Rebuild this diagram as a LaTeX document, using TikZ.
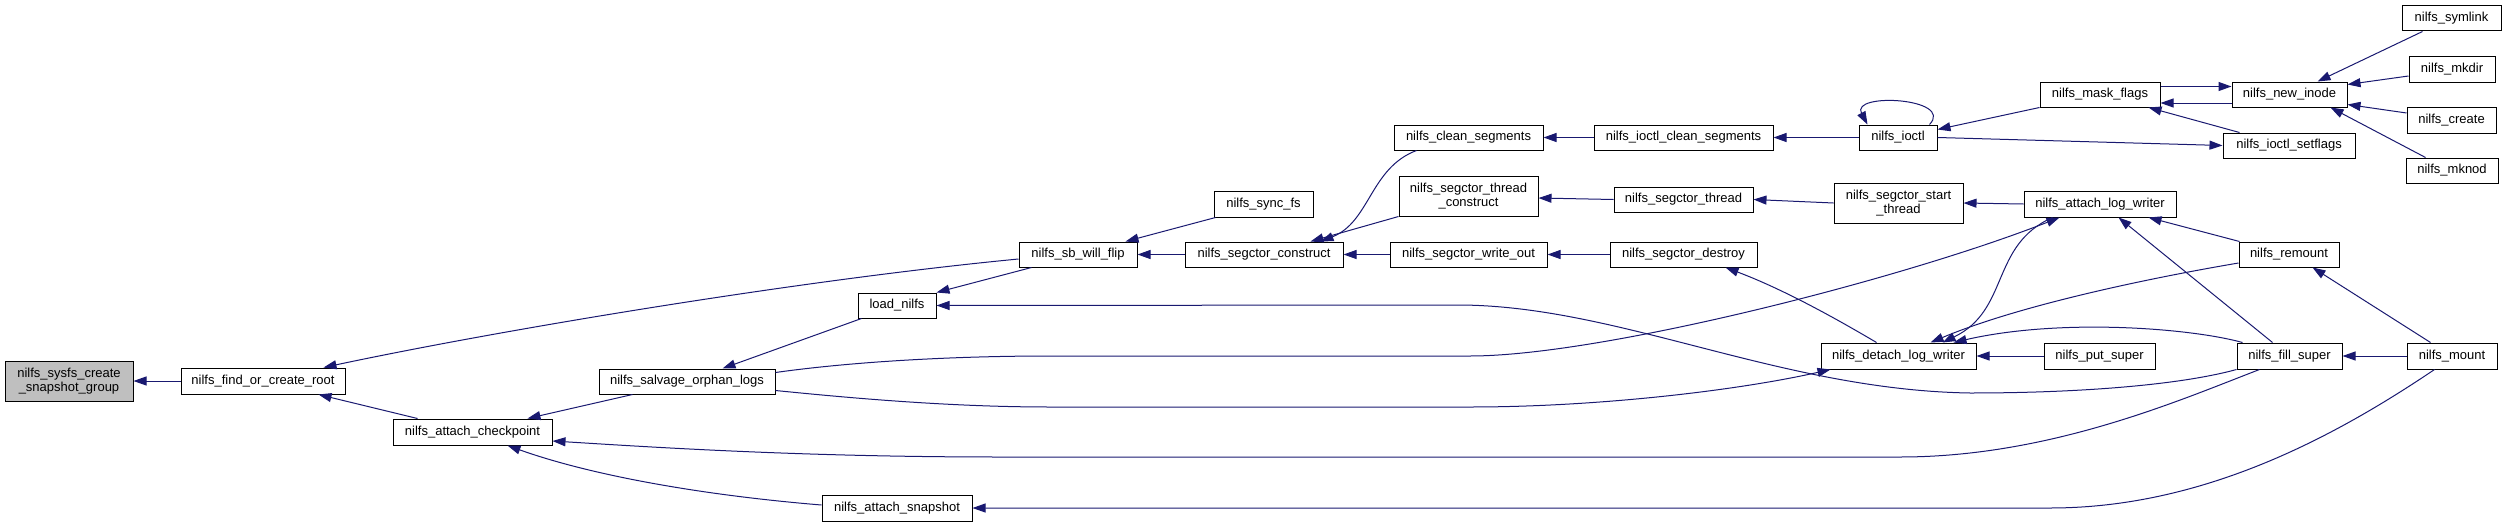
\documentclass[tikz,border=0pt]{standalone}
\usepackage{fontspec}
\setmainfont{Liberation Sans}
\usetikzlibrary{arrows.meta}
\definecolor{edgeblue}{HTML}{191970}
\begin{document}
\begin{tikzpicture}[x=1pt,y=-1pt,
 fn/.style={draw=black,line width=1pt,fill=white,inner sep=0pt,align=center,font=\fontsize{13}{14.5}\selectfont},
 call/.style={draw=edgeblue,line width=1pt,-{Triangle[length=13pt,width=9pt]}}]
\useasboundingbox (0,0) rectangle (2507,527);
% nodes
\node[fn,minimum width=128pt,minimum height=40pt,fill=gray!50] (root) at (69,381) {nilfs\_sysfs\_create\\\_snapshot\_group};
\node[fn,minimum width=164pt,minimum height=26pt] (findroot) at (263,381) {nilfs\_find\_or\_create\_root};
\node[fn,minimum width=159pt,minimum height=26pt] (attachcp) at (472.5,432) {nilfs\_attach\_checkpoint};
\node[fn,minimum width=176pt,minimum height=25pt] (salvage) at (687,381.5) {nilfs\_salvage\_orphan\_logs};
\node[fn,minimum width=118pt,minimum height=25pt] (sbflip) at (1078,254.5) {nilfs\_sb\_will\_flip};
\node[fn,minimum width=78pt,minimum height=25pt] (loadnilfs) at (897,305.5) {load\_nilfs};
\node[fn,minimum width=150pt,minimum height=26pt] (attachsnap) at (897,508) {nilfs\_attach\_snapshot};
\node[fn,minimum width=99pt,minimum height=26pt] (syncfs) at (1263.5,204) {nilfs\_sync\_fs};
\node[fn,minimum width=158pt,minimum height=25pt] (segconstruct) at (1264,254.5) {nilfs\_segctor\_construct};
\node[fn,minimum width=149pt,minimum height=25pt] (cleanseg) at (1468.5,137.5) {nilfs\_clean\_segments};
\node[fn,minimum width=139pt,minimum height=40pt] (threadconstruct) at (1468.5,196) {nilfs\_segctor\_thread\\\_construct};
\node[fn,minimum width=157pt,minimum height=25pt] (writeout) at (1468.5,254.5) {nilfs\_segctor\_write\_out};
\node[fn,minimum width=179pt,minimum height=25pt] (ioctlclean) at (1683.5,137.5) {nilfs\_ioctl\_clean\_segments};
\node[fn,minimum width=139pt,minimum height=25pt] (segthread) at (1683.5,199.5) {nilfs\_segctor\_thread};
\node[fn,minimum width=147pt,minimum height=25pt] (segdestroy) at (1683.5,254.5) {nilfs\_segctor\_destroy};
\node[fn,minimum width=78pt,minimum height=25pt] (ioctl) at (1898,137.5) {nilfs\_ioctl};
\node[fn,minimum width=129pt,minimum height=40pt] (startthread) at (1898.5,203) {nilfs\_segctor\_start\\\_thread};
\node[fn,minimum width=155pt,minimum height=26pt] (detach) at (1898.5,356) {nilfs\_detach\_log\_writer};
\node[fn,minimum width=120pt,minimum height=25pt] (maskflags) at (2100,94.5) {nilfs\_mask\_flags};
\node[fn,minimum width=152pt,minimum height=26pt] (attachlog) at (2100,204) {nilfs\_attach\_log\_writer};
\node[fn,minimum width=111pt,minimum height=26pt] (putsuper) at (2099.5,356) {nilfs\_put\_super};
\node[fn,minimum width=115pt,minimum height=25pt] (newinode) at (2289.5,94.5) {nilfs\_new\_inode};
\node[fn,minimum width=132pt,minimum height=25pt] (setflags) at (2289,145.5) {nilfs\_ioctl\_setflags};
\node[fn,minimum width=100pt,minimum height=25pt] (remount) at (2289,254.5) {nilfs\_remount};
\node[fn,minimum width=105pt,minimum height=26pt] (fillsuper) at (2289.5,356) {nilfs\_fill\_super};
\node[fn,minimum width=99pt,minimum height=25pt] (symlink) at (2451.5,18.5) {nilfs\_symlink};
\node[fn,minimum width=86pt,minimum height=25pt] (mkdir) at (2452,69.5) {nilfs\_mkdir};
\node[fn,minimum width=89pt,minimum height=26pt] (create) at (2451.5,120) {nilfs\_create};
\node[fn,minimum width=92pt,minimum height=25pt] (mknod) at (2452,170.5) {nilfs\_mknod};
\node[fn,minimum width=90pt,minimum height=26pt] (mount) at (2452,356) {nilfs\_mount};
% edges
\draw[call] (findroot.west) -- (root.east);
\draw[call] ([yshift=-4.5pt]sbflip.west) .. controls (800,280) and (500,330) .. ([xshift=-22pt]findroot.north east);
\draw[call] ([xshift=25pt]attachcp.north west) -- ([xshift=-27pt]findroot.south east);
\draw[call] ([xshift=34pt]salvage.south west) -- ([xshift=-25pt]attachcp.north east);
\draw[call] ([xshift=23pt]fillsuper.south west) .. controls (2180,400) and (2050,457) .. (1900,457) -- (1000,457) .. controls (800,457) and (650,447) .. ([yshift=-9pt]attachcp.east);
\draw[call] ([xshift=28pt]mount.south west) .. controls (2330,440) and (2200,508) .. (2050,508) -- (attachsnap.east);
\draw[call] ([yshift=3pt]attachsnap.west) .. controls (700,495) and (590,475) .. ([xshift=-45pt]attachcp.south east);
\draw[call] ([xshift=13pt]sbflip.south west) -- (loadnilfs.north east);
\draw[call] ([xshift=4pt]loadnilfs.south west) -- ([xshift=-53pt]salvage.north east);
\draw[call] (fillsuper.south west) .. controls (2180,385) and (2080,393) .. (1970,393) .. controls (1780,390) and (1620,306) .. (1460,305) -- (loadnilfs.east);
\draw[call] ([xshift=2pt]syncfs.south west) -- ([xshift=-12pt]sbflip.north east);
\draw[call] (segconstruct.west) -- (sbflip.east);
\draw[call] ([xshift=23pt]cleanseg.south west) .. controls (1370,168) and (1370,222) .. ([xshift=-23pt]segconstruct.north east);
\draw[call] (threadconstruct.south west) -- ([xshift=-33pt]segconstruct.north east);
\draw[call] (writeout.west) -- (segconstruct.east);
\draw[call] (ioctlclean.west) -- (cleanseg.east);
\draw[call] (segthread.west) -- ([yshift=-2pt]threadconstruct.east);
\draw[call] (segdestroy.west) -- (writeout.east);
\draw[call] (ioctl.west) -- (ioctlclean.east);
\draw[call] (startthread.west) -- (segthread.east);
\draw[call] (attachlog.west) -- (startthread.east);
\draw[call] ([xshift=56pt]detach.north west) .. controls (1830,315) and (1780,288) .. ([xshift=-32pt]segdestroy.south east);
\draw[call] ([xshift=-8pt]ioctl.north east) .. controls (1955,98) and (1850,92) .. ([xshift=9pt]ioctl.north west);
\draw[call] (maskflags.south west) -- ([yshift=8pt]ioctl.east);
\draw[call] (ioctl.east) -- (setflags.west);
\draw[call] ([xshift=17pt]setflags.north west) -- ([xshift=-12pt]maskflags.south east);
\draw[call] ([yshift=8pt]maskflags.east) -- ([yshift=8pt]newinode.west);
\draw[call] ([yshift=-8.5pt]newinode.west) -- ([yshift=-8.5pt]maskflags.east);
\draw[call] ([xshift=21pt]symlink.south west) -- ([xshift=-30pt]newinode.north east);
\draw[call] ([yshift=-6.5pt]mkdir.west) -- ([yshift=10pt]newinode.east);
\draw[call] ([yshift=7pt]create.west) -- ([yshift=-10pt]newinode.east);
\draw[call] ([xshift=20pt]mknod.north west) -- ([xshift=-17pt]newinode.south east);
\draw[call] ([yshift=9pt]salvage.east) .. controls (850,362) and (950,356) .. (1050,356) -- (1470,356) .. controls (1600,356) and (1900,280) .. ([xshift=36pt]attachlog.south west);
\draw[call] ([yshift=-9pt]salvage.east) .. controls (850,398) and (950,407) .. (1050,407) -- (1470,407) .. controls (1600,407) and (1740,390) .. ([xshift=10pt]detach.south west);
\draw[call] ([xshift=29pt]attachlog.south west) .. controls (1990,245) and (2010,310) .. ([xshift=-34pt]detach.north east);
\draw[call] ([yshift=-8.5pt]remount.west) .. controls (2150,278) and (2020,305) .. ([xshift=-46pt]detach.north east);
\draw[call] ([xshift=6pt]fillsuper.north west) .. controls (2190,328) and (2060,318) .. ([xshift=-23pt]detach.north east);
\draw[call] (putsuper.west) -- (detach.east);
\draw[call] ([xshift=36pt]fillsuper.north west) -- ([xshift=-58pt]attachlog.south east);
\draw[call] ([xshift=1pt]remount.north west) -- ([xshift=-28pt]attachlog.south east);
\draw[call] ([xshift=24pt]mount.north west) -- ([xshift=-27pt]remount.south east);
\draw[call] (mount.west) -- (fillsuper.east);
\end{tikzpicture}
\end{document}
